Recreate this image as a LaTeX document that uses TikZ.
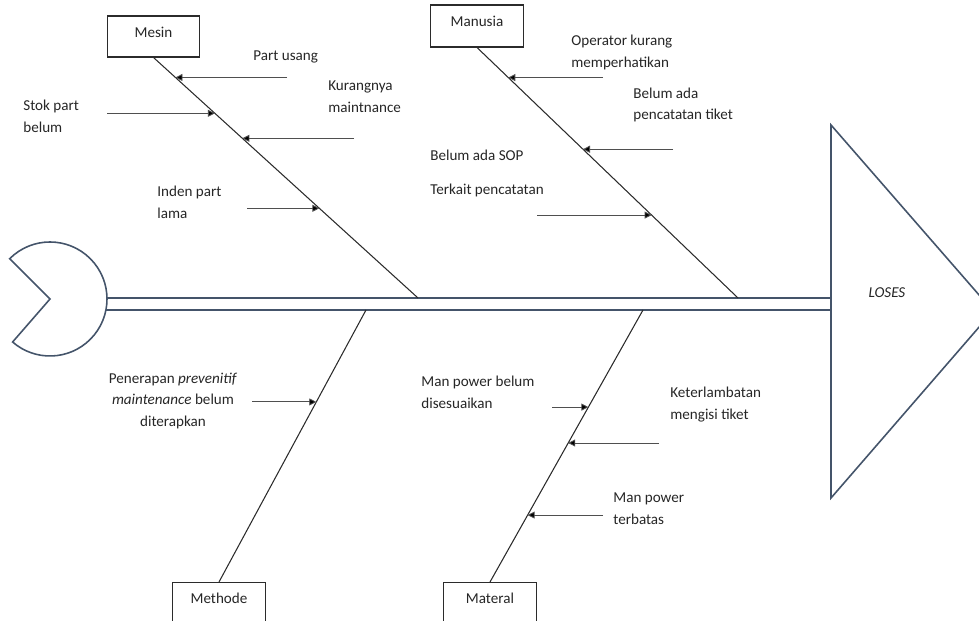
\documentclass[tikz,border=0pt]{standalone}
\usepackage{fontspec}
\setmainfont{Carlito}
\usetikzlibrary{arrows.meta,calc}
\definecolor{fishSlate}{HTML}{44546A}
\definecolor{fishBone}{HTML}{2B2B2B}
\definecolor{fishArrow}{HTML}{4F4F4F}
\definecolor{fishText}{HTML}{262626}
\newcommand{\fishFont}{\fontsize{8.6}{12.5}\selectfont}
\tikzset{
  catBox/.style={
    draw=fishBone,
    line width=0.6pt,
    fill=white,
    minimum width=1.85cm,
    inner sep=0pt,
    text height=0.2cm,
    font=\fishFont,
    text=fishText
  },
  boneLine/.style={fishBone, line width=0.6pt},
  spineLine/.style={fishSlate, line width=0.9pt},
  causeArrow/.style={fishArrow, line width=0.5pt,
    -{Triangle[length=4pt,width=4pt,fill=black]}},
  causeText/.style={
    font=\fishFont,
    text=fishText,
    inner sep=0pt,
    anchor=west,
    align=left
  }
}

\begin{document}
\begin{tikzpicture}[x=0.02cm,y=0.02cm]
  \useasboundingbox (0,0) rectangle (979,621);
  \clip (0,0) rectangle (979,621);
  \draw[spineLine] (50,322) -- ++(135:57)
    arc[start angle=135, end angle=-131, radius=57] -- cycle;
  \draw[spineLine] (106,323) -- (831,323);
  \draw[spineLine] (106,311) -- (831,311);
  \draw[spineLine, fill=white] (831,496) -- (993,310) -- (831,123) -- cycle;
  \node[causeText, anchor=center, font=\fishFont\itshape] (loses) at (887,328) {LOSES};
  \coordinate (mesinEnd) at (418,323);
  \coordinate (manusiaEnd) at (738,323);
  \coordinate (methodeEnd) at (366,311);
  \coordinate (materalEnd) at (643,311);
  \node[catBox, minimum height=0.82cm, text depth=0.16cm] (mesin) at (153.5,584.5) {Mesin};
  \node[catBox, minimum height=0.84cm, text depth=0.16cm] (manusia) at (477,595) {Manusia};
  \node[catBox, minimum height=1.2cm, text depth=0.56cm, anchor=north] (methode) at (219,39) {Methode};
  \node[catBox, minimum height=1.2cm, text depth=0.56cm, anchor=north] (materal) at (490,39) {Materal};
  \draw[boneLine] (mesin.south) -- (mesinEnd);
  \draw[boneLine] (manusia.south) -- (manusiaEnd);
  \draw[boneLine] (methodeEnd) -- (methode.north);
  \draw[boneLine] (materalEnd) -- (materal.north);
  \foreach \nm/\from/\to/\t/\tx in {
      m1/mesin.south/mesinEnd/0.083/287,
      m2/mesin.south/mesinEnd/0.232/107,
      m3/mesin.south/mesinEnd/0.336/354,
      m4/mesin.south/mesinEnd/0.627/247,
      h1/manusia.south/manusiaEnd/0.120/603,
      h2/manusia.south/manusiaEnd/0.406/673,
      h3/manusia.south/manusiaEnd/0.669/537,
      t1/methodeEnd/methode.north/0.338/252,
      r1/materalEnd/materal.north/0.357/552,
      r2/materalEnd/materal.north/0.489/659,
      r3/materalEnd/materal.north/0.754/603} {
    \coordinate (\nm) at ($(\from)!\t!(\to)$);
    \coordinate (\nm tail) at (\tx,0 |- \nm);
    \draw[causeArrow] (\nm tail) -- (\nm);
  }
  \node[causeText] (partUsang) at (253,564) {Part usang};
  \node[causeText] (stokPart) at (23,504.5) {Stok part\\belum};
  \node[causeText] (kurangMaint) at (328,524.5) {Kurangnya\\maintnance};
  \node[causeText] (indenPart) at (157,418.5) {Inden part\\lama};
  \node[causeText] (operator) at (571,568.5) {Operator kurang\\memperhatikan};
  \node[causeText] (pencatatan) at (633,516) {Belum ada\\pencatatan tiket};
  \node[causeText] (belumSop) at (430,447.5) {Belum ada SOP\\[7pt]Terkait pencatatan};
  \node[causeText, anchor=center, align=center] (preventif) at (173,220)
    {Penerapan \textit{prevenitif}\\\textit{maintenance} belum\\diterapkan};
  \node[causeText] (manPowerA) at (421,229) {Man power belum\\disesuaikan};
  \node[causeText] (terlambat) at (670,216.5) {Keterlambatan\\mengisi tiket};
  \node[causeText] (manPowerB) at (613,112.5) {Man power\\terbatas};
\end{tikzpicture}
\end{document}
